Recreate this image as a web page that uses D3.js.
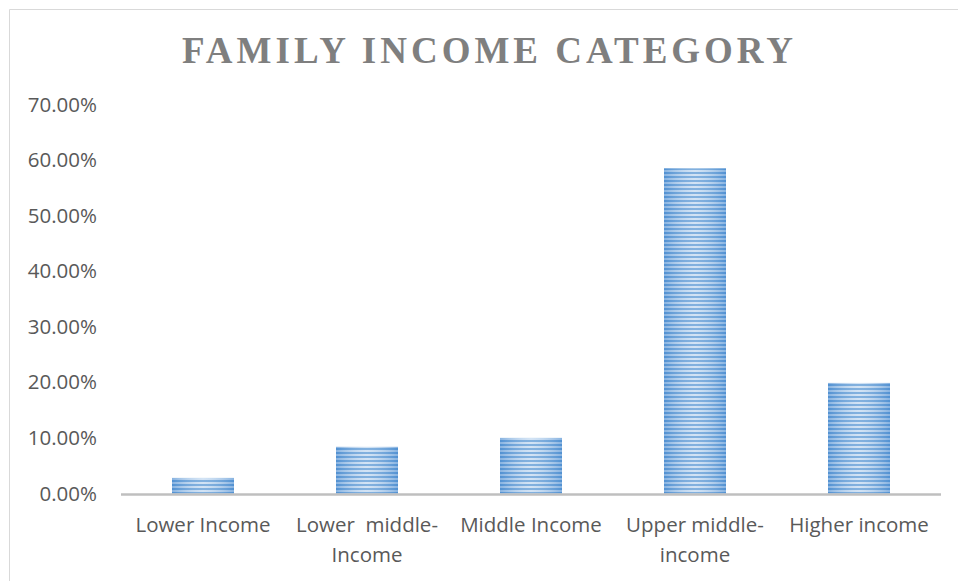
<!DOCTYPE html>
<html>
<head>
<meta charset="utf-8">
<script src="https://cdn.jsdelivr.net/npm/d3@7/dist/d3.min.js"></script>
<style>
  html, body { margin: 0; padding: 0; background: #fff; }
  svg { display: block; }
</style>
</head>
<body>
<script>
// Share of families by income category
const categories = [
  ["Lower Income"],
  ["Lower  middle-", "Income"],
  ["Middle Income"],
  ["Upper middle-", "income"],
  ["Higher income"]
];
const shares = [0.028, 0.084, 0.10, 0.585, 0.199];
const yTicks = [0, 0.1, 0.2, 0.3, 0.4, 0.5, 0.6, 0.7];
const chartTitle = "FAMILY INCOME CATEGORY";

const W = 958, H = 581;
const margin = { left: 121, right: 17, top: 104.5, bottom: 87.5 };
const labelFont = "'Open Sans', sans-serif";
const labelSize = 20.5;

const svg = d3.select("body").append("svg")
  .attr("width", W).attr("height", H);

// Striped bar fill with a soft horizontal sheen
const defs = svg.append("defs");
const pat = defs.append("pattern")
  .attr("id", "stripes")
  .attr("patternUnits", "userSpaceOnUse")
  .attr("width", 8).attr("height", 4);
pat.append("rect").attr("width", 8).attr("height", 4).attr("fill", "#c4daf1");
pat.append("rect").attr("y", 0).attr("width", 8).attr("height", 2).attr("fill", "#5896d3");

const sheen = defs.append("linearGradient")
  .attr("id", "sheen").attr("x1", "0").attr("x2", "1").attr("y1", "0").attr("y2", "0");
sheen.append("stop").attr("offset", "0").attr("stop-color", "#4a8bd0").attr("stop-opacity", 0.5);
sheen.append("stop").attr("offset", "0.5").attr("stop-color", "#ffffff").attr("stop-opacity", 0.25);
sheen.append("stop").attr("offset", "1").attr("stop-color", "#4a8bd0").attr("stop-opacity", 0.5);

// Chart frame
svg.append("path")
  .attr("d", `M9.5,${H} V9.5 H${W}`)
  .attr("fill", "none").attr("stroke", "#d9d9d9").attr("stroke-width", 1);

// Title
svg.append("text")
  .attr("x", 182).attr("y", 63)
  .attr("textLength", 611).attr("lengthAdjust", "spacing")
  .attr("font-family", "'Liberation Serif', 'Times New Roman', serif")
  .attr("font-weight", "bold").attr("font-size", 37)
  .attr("fill", "#7f7f7f")
  .text(chartTitle);

const x = d3.scaleBand()
  .domain(d3.range(categories.length))
  .range([margin.left, W - margin.right])
  .paddingInner(0.622).paddingOuter(0.311);

const y = d3.scaleLinear()
  .domain([0, 0.7])
  .range([H - margin.bottom, margin.top]);

// Y axis labels (no line, no ticks)
const yAxis = d3.axisLeft(y)
  .tickValues(yTicks)
  .tickFormat(d3.format(".2%"))
  .tickSize(0).tickPadding(0);
const gy = svg.append("g")
  .attr("transform", "translate(97,0)")
  .call(yAxis);
gy.select(".domain").remove();
gy.selectAll("text")
  .attr("font-family", labelFont)
  .attr("font-size", labelSize)
  .attr("fill", "#595959");

// Bars
const bars = svg.append("g");
bars.selectAll("rect.fill")
  .data(shares)
  .join("rect")
  .attr("class", "fill")
  .attr("x", (d, i) => x(i))
  .attr("width", x.bandwidth())
  .attr("y", d => y(d))
  .attr("height", d => y(0) - y(d))
  .attr("fill", "url(#stripes)");
bars.selectAll("rect.sheen")
  .data(shares)
  .join("rect")
  .attr("class", "sheen")
  .attr("x", (d, i) => x(i))
  .attr("width", x.bandwidth())
  .attr("y", d => y(d))
  .attr("height", d => y(0) - y(d))
  .attr("fill", "url(#sheen)");

// Category axis line
svg.append("line")
  .attr("x1", margin.left).attr("x2", W - margin.right)
  .attr("y1", y(0) + 1).attr("y2", y(0) + 1)
  .attr("stroke", "#bfbfbf").attr("stroke-width", 2.5);

// Category labels
const labels = svg.append("g")
  .attr("font-family", labelFont)
  .attr("font-size", labelSize)
  .attr("fill", "#595959")
  .attr("text-anchor", "middle");
categories.forEach((lines, i) => {
  const t = labels.append("text")
    .attr("x", x(i) + x.bandwidth() / 2)
    .attr("y", 532)
    .attr("xml:space", "preserve")
    .style("white-space", "pre");
  lines.forEach((ln, j) => {
    t.append("tspan")
      .attr("x", x(i) + x.bandwidth() / 2)
      .attr("dy", j === 0 ? 0 : 30)
      .text(ln);
  });
});
</script>
</body>
</html>
